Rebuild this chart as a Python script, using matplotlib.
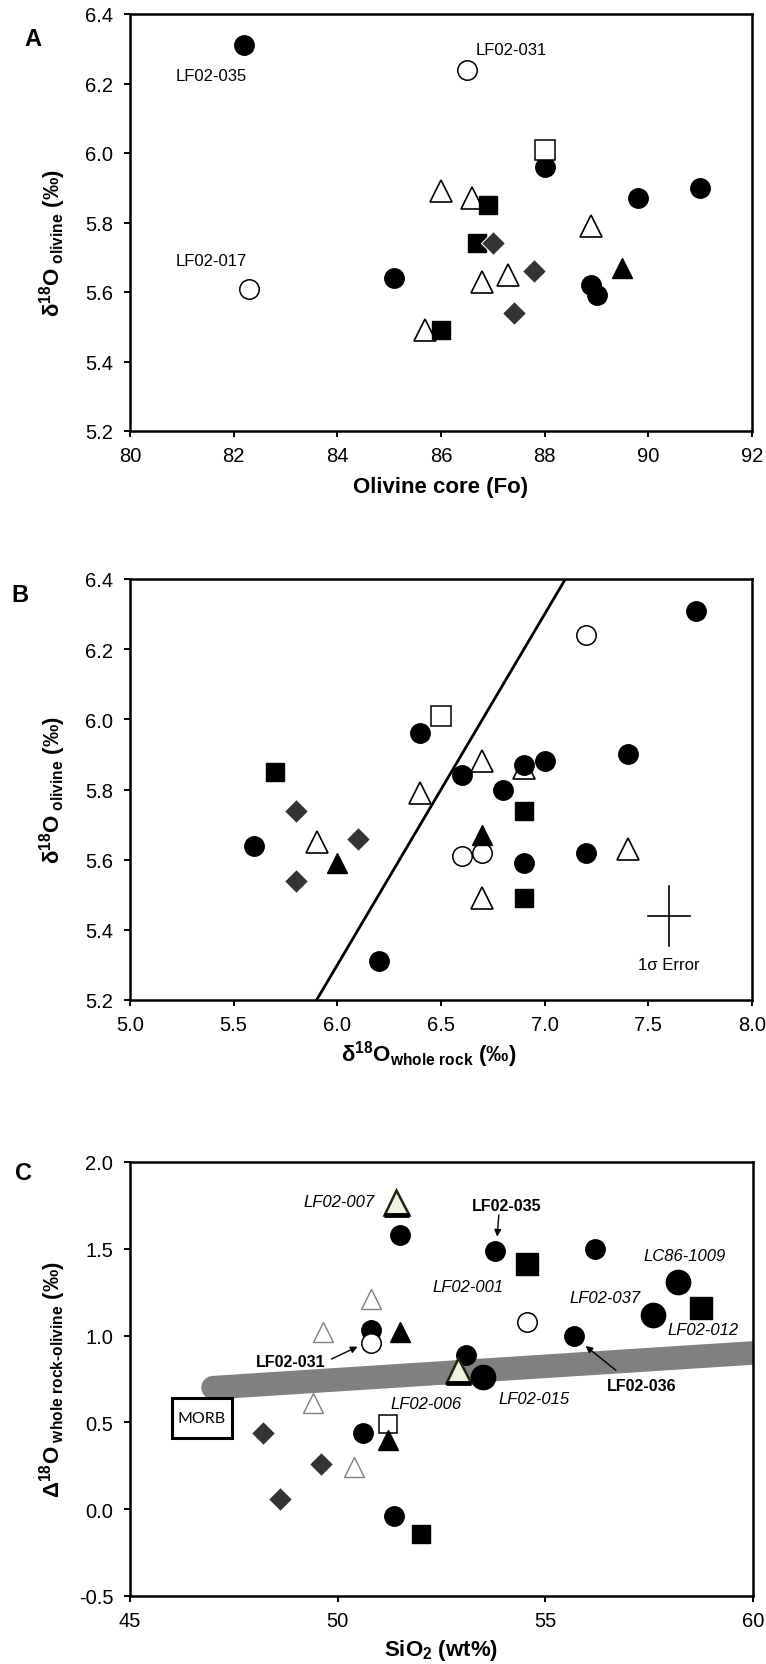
import numpy as np
import matplotlib
matplotlib.use("Agg")
import matplotlib.pyplot as plt
from matplotlib.path import Path
from matplotlib.patches import Rectangle

plt.rcParams['font.family'] = ['Liberation Sans', 'DejaVu Sans']
plt.rcParams['mathtext.fontset'] = 'custom'
plt.rcParams['mathtext.rm'] = 'Liberation Sans:bold'
plt.rcParams['mathtext.it'] = 'Liberation Sans:bold:italic'
plt.rcParams['mathtext.bf'] = 'Liberation Sans:bold'

# ---------------- panel A : Fo vs d18O olivine ----------------
a_fc_x = [82.2, 88.0, 91.0, 89.8, 85.1, 88.9, 89.0]
a_fc_y = [6.31, 5.96, 5.90, 5.87, 5.64, 5.62, 5.59]
a_oc_x = [86.5, 82.3]
a_oc_y = [6.24, 5.61]
a_os_x = [88.0]
a_os_y = [6.01]
a_fs_x = [86.9, 86.7, 86.0]
a_fs_y = [5.85, 5.74, 5.49]
a_ot_x = [86.0, 86.6, 88.9, 87.3, 86.8, 85.7]
a_ot_y = [5.89, 5.87, 5.79, 5.65, 5.63, 5.49]
a_ft_x = [89.5]
a_ft_y = [5.67]
a_dm_x = [87.0, 87.8, 87.4]
a_dm_y = [5.74, 5.66, 5.54]
a_lab = ['LF02-035', 'LF02-031', 'LF02-017']
a_lab_x = [81.56, 87.36, 81.56]
a_lab_y = [6.223, 6.297, 5.69]

# ---------------- panel B : d18O WR vs d18O olivine ----------------
b_fc_x = [7.73, 6.4, 7.4, 6.9, 7.0, 6.6, 6.8, 5.6, 7.2, 6.9, 6.2]
b_fc_y = [6.31, 5.96, 5.90, 5.87, 5.88, 5.84, 5.80, 5.64, 5.62, 5.59, 5.31]
b_oc_x = [7.2, 6.6, 6.7]
b_oc_y = [6.24, 5.61, 5.62]
b_os_x = [6.5]
b_os_y = [6.01]
b_fs_x = [5.7, 6.9, 6.9]
b_fs_y = [5.85, 5.74, 5.49]
b_ot_x = [6.7, 6.9, 6.4, 5.9, 7.4, 6.7]
b_ot_y = [5.88, 5.86, 5.79, 5.65, 5.63, 5.49]
b_ft_x = [6.7, 6.0]
b_ft_y = [5.67, 5.59]
b_dm_x = [5.8, 6.1, 5.8]
b_dm_y = [5.74, 5.66, 5.54]
b_line_x = [5.9, 7.1]
b_line_y = [5.2, 6.4]
b_err_x, b_err_y = 7.6, 5.44
b_err_dx, b_err_dy = 0.1, 0.085

# ---------------- panel C : SiO2 vs D18O WR-ol ----------------
c_fc_x = [51.5, 53.8, 56.2, 55.7, 50.8, 53.1, 50.6, 51.35]
c_fc_y = [1.58, 1.49, 1.50, 1.00, 1.03, 0.89, 0.44, -0.04]
c_fcl_x = [58.2, 57.6, 53.5]
c_fcl_y = [1.31, 1.12, 0.76]
c_fsl_x = [54.55, 58.75]
c_fsl_y = [1.41, 1.16]
c_fs_x = [52.0]
c_fs_y = [-0.14]
c_oc_x = [54.55, 50.8]
c_oc_y = [1.08, 0.955]
c_os_x = [51.2]
c_os_y = [0.49]
c_ot_x = [50.8, 49.65, 49.4, 50.4]
c_ot_y = [1.21, 1.02, 0.61, 0.245]
c_hl_x = [51.4, 52.9]
c_hl_y = [1.77, 0.80]
c_ft_x = [51.5, 51.2]
c_ft_y = [1.02, 0.40]
c_dm_x = [48.2, 49.6, 48.6]
c_dm_y = [0.44, 0.26, 0.06]
c_band_x = [47.0, 60.0]
c_band_y = [0.70, 0.90]
c_morb = [46.0, 0.41, 1.45, 0.23]

c_ital = ['LF02-007', 'LF02-001', 'LC86-1009', 'LF02-037', 'LF02-012', 'LF02-006', 'LF02-015']
c_ital_x = [50.0, 53.15, 58.35, 56.43, 58.79, 52.12, 54.72]
c_ital_y = [1.77, 1.28, 1.46, 1.22, 1.035, 0.61, 0.64]
c_bold = ['LF02-035', 'LF02-031', 'LF02-036']
c_bold_x = [54.07, 48.86, 57.33]
c_bold_y = [1.75, 0.85, 0.71]
c_arr_from = [(53.88, 1.695), (49.85, 0.865), (56.70, 0.80)]
c_arr_to = [(53.84, 1.57), (50.48, 0.936), (55.97, 0.94)]

W, H = 766, 1665
fig = plt.figure(figsize=(W / 100, H / 100), dpi=100)

def px_axes(left, top, right, bottom):
    return fig.add_axes([left / W, 1 - bottom / H, (right - left) / W, (bottom - top) / H])

axA = px_axes(130, 15, 752, 432)
axB = px_axes(130, 580, 752, 1001)
axC = px_axes(130, 1163, 753, 1597)

DIAM = '#333333'
base_path = Path([(-1, -1), (1, -1)], [Path.MOVETO, Path.LINETO])

def style(ax):
    for s in ax.spines.values():
        s.set_linewidth(1.8)
        s.set_color('black')
    ax.tick_params(direction='out', length=4, width=1.4, labelsize=14.5, pad=7)
    ax.tick_params(axis='y', pad=8)

def common(ax, fc, oc, os_, fs, ot, ft, dm):
    ax.plot(*fc, 'o', ms=14, mfc='black', mec='black', ls='none', zorder=5)
    ax.plot(*oc, 'o', ms=14, mfc='white', mec='black', mew=1.1, ls='none', zorder=5)
    ax.plot(*os_, 's', ms=14, mfc='white', mec='black', mew=1.1, ls='none', zorder=5)
    ax.plot(*fs, 's', ms=13, mfc='black', mec='black', ls='none', zorder=5)
    ax.plot(*ot, '^', ms=16.5, mfc='white', mec='black', mew=1.2, ls='none', zorder=4)
    ax.plot(*ft, '^', ms=14.5, mfc='black', mec='black', ls='none', zorder=5)
    ax.plot(*dm, 'D', ms=12, mfc=DIAM, mec='white', mew=0.8, ls='none', zorder=5)

# ---- A ----
common(axA, (a_fc_x, a_fc_y), (a_oc_x, a_oc_y), (a_os_x, a_os_y), (a_fs_x, a_fs_y),
       (a_ot_x, a_ot_y), (a_ft_x, a_ft_y), (a_dm_x, a_dm_y))
for t, x, y in zip(a_lab, a_lab_x, a_lab_y):
    axA.text(x, y, t, fontsize=12, ha='center', va='center')
axA.set_xlim(80, 92)
axA.set_ylim(5.2, 6.4)
axA.set_xticks(np.arange(80, 93, 2))
axA.set_yticks(np.arange(5.2, 6.41, 0.2))
axA.yaxis.set_major_formatter(matplotlib.ticker.FormatStrFormatter('%.1f'))
axA.set_xlabel('Olivine core (Fo)', fontsize=16, fontweight='bold', va='center')
axA.xaxis.set_label_coords(0.5, -0.132)
axA.set_ylabel('δ$^{18}$$\\mathrm{O}_{\\mathrm{\\ olivine}}$ (‰)', fontsize=16,
               fontweight='bold', va='center')
axA.yaxis.set_label_coords(-77 / 622, 0.452)
style(axA)

# ---- B ----
common(axB, (b_fc_x, b_fc_y), (b_oc_x, b_oc_y), (b_os_x, b_os_y), (b_fs_x, b_fs_y),
       (b_ot_x, b_ot_y), (b_ft_x, b_ft_y), (b_dm_x, b_dm_y))
axB.plot(b_line_x, b_line_y, color='black', lw=2, zorder=3)
axB.plot([b_err_x - b_err_dx, b_err_x + b_err_dx], [b_err_y, b_err_y], color='black', lw=1.2)
axB.plot([b_err_x, b_err_x], [b_err_y - b_err_dy, b_err_y + b_err_dy], color='black', lw=1.2)
axB.text(b_err_x, 5.30, '1σ Error', fontsize=12, ha='center', va='center')
axB.set_xlim(5.0, 8.0)
axB.set_ylim(5.2, 6.4)
axB.set_xticks(np.arange(5.0, 8.01, 0.5))
axB.set_yticks(np.arange(5.2, 6.41, 0.2))
axB.xaxis.set_major_formatter(matplotlib.ticker.FormatStrFormatter('%.1f'))
axB.yaxis.set_major_formatter(matplotlib.ticker.FormatStrFormatter('%.1f'))
axB.set_xlabel('δ$^{18}$$\\mathrm{O}_{\\mathrm{whole\\ rock}}$ (‰)', fontsize=16,
               fontweight='bold', va='center')
axB.xaxis.set_label_coords(0.48, -0.128)
axB.set_ylabel('δ$^{18}$$\\mathrm{O}_{\\mathrm{\\ olivine}}$ (‰)', fontsize=16,
               fontweight='bold', va='center')
axB.yaxis.set_label_coords(-77 / 622, 0.5)
style(axB)

# ---- C ----
axC.plot(c_band_x, c_band_y, color='#808080', lw=17, solid_capstyle='round', zorder=2)
axC.add_patch(Rectangle((c_morb[0], c_morb[1]), c_morb[2], c_morb[3], fill=True,
                        fc='white', ec='black', lw=2.2, zorder=3))
axC.text(c_morb[0] + c_morb[2] / 2, c_morb[1] + c_morb[3] / 2, 'MORB',
         family='Lato', fontsize=11.5, ha='center', va='center', zorder=4)
axC.plot(c_fc_x, c_fc_y, 'o', ms=14, mfc='black', mec='black', ls='none', zorder=5)
axC.plot(c_fcl_x, c_fcl_y, 'o', ms=17.5, mfc='black', mec='black', ls='none', zorder=5)
axC.plot(c_fsl_x, c_fsl_y, 's', ms=16.5, mfc='black', mec='black', ls='none', zorder=5)
axC.plot(c_fs_x, c_fs_y, 's', ms=13, mfc='black', mec='black', ls='none', zorder=5)
axC.plot(c_oc_x, c_oc_y, 'o', ms=14, mfc='white', mec='black', mew=1.1, ls='none', zorder=6)
axC.plot(c_os_x, c_os_y, 's', ms=13.5, mfc='white', mec='black', mew=1.1, ls='none', zorder=5)
axC.plot(c_ot_x, c_ot_y, '^', ms=15, mfc='white', mec='#808080', mew=1, ls='none', zorder=4)
axC.plot(c_ft_x, c_ft_y, '^', ms=14.5, mfc='black', mec='black', ls='none', zorder=5)
axC.plot(c_dm_x, c_dm_y, 'D', ms=12, mfc=DIAM, mec='white', mew=0.8, ls='none', zorder=5)
axC.plot(c_hl_x, c_hl_y, '^', ms=18, mfc='#eef3df', mec='#1f2410', mew=1.8, ls='none', zorder=6)
axC.plot(c_hl_x, c_hl_y, marker=base_path, ms=18, mec='black', mew=3.5, ls='none', zorder=6)

for t, x, y in zip(c_ital, c_ital_x, c_ital_y):
    ha = 'right' if t == 'LF02-007' else 'center'
    xx = 50.9 if t == 'LF02-007' else x
    axC.text(xx, y, t, fontsize=12, style='italic', ha=ha, va='center', zorder=7)
for t, x, y in zip(c_bold, c_bold_x, c_bold_y):
    axC.text(x, y, t, fontsize=11.5, fontweight='bold', ha='center', va='center', zorder=7)
for p0, p1 in zip(c_arr_from, c_arr_to):
    axC.annotate('', xy=p1, xytext=p0,
                 arrowprops=dict(arrowstyle='-|>', color='black', lw=1, mutation_scale=10,
                                 shrinkA=0, shrinkB=0), zorder=7)
axC.set_xlim(45, 60)
axC.set_ylim(-0.5, 2.0)
axC.set_xticks([45, 50, 55, 60])
axC.set_yticks(np.arange(-0.5, 2.01, 0.5))
axC.yaxis.set_major_formatter(matplotlib.ticker.FormatStrFormatter('%.1f'))
axC.set_xlabel('SiO$_{2}$ (wt%)', fontsize=16, fontweight='bold', va='center')
axC.xaxis.set_label_coords(0.5, -0.124)
axC.set_ylabel('Δ$^{18}$$\\mathrm{O}_{\\text{ whole rock-olivine}}$ (‰)', fontsize=16,
               fontweight='bold', va='center')
axC.yaxis.set_label_coords(-77 / 623, 0.5)
style(axC)

fig.text(33 / W, 1 - 40 / H, 'A', fontsize=17, fontweight='bold', ha='center', va='center')
fig.text(20 / W, 1 - 595 / H, 'B', fontsize=17, fontweight='bold', ha='center', va='center')
fig.text(24 / W, 1 - 1174 / H, 'C', fontsize=17, fontweight='bold', ha='center', va='center')

fig.savefig('out.png', dpi=100)
